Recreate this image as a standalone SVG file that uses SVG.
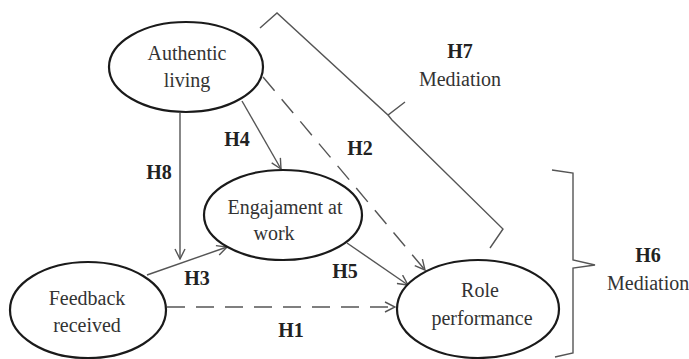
<svg xmlns="http://www.w3.org/2000/svg" width="689" height="359" viewBox="0 0 689 359">
<style>
.node ellipse{fill:#ffffff;stroke:#1a1a1a;stroke-width:2.2}
.lbl{font-family:"Liberation Serif","Times New Roman",serif;font-size:20px;fill:#333;text-anchor:middle}
.h{font-family:"Liberation Serif","Times New Roman",serif;font-size:20px;font-weight:bold;fill:#222;text-anchor:middle}
.c{fill:none;stroke:#555;stroke-width:1.4}
.d{stroke-dasharray:18,11}
.br{fill:none;stroke:#555;stroke-width:1.4}
</style>
<defs>
<marker id="arr" viewBox="0 0 12 12" refX="11" refY="6" markerWidth="12" markerHeight="12" markerUnits="userSpaceOnUse" orient="auto">
<path d="M1,1 L11,6 L1,11" fill="none" stroke="#555" stroke-width="1.4"/>
</marker>
</defs>
<rect width="689" height="359" fill="#ffffff"/>
<g id="connectors">
<line class="c" x1="180" y1="113" x2="180" y2="259" marker-end="url(#arr)"/>
<line class="c" x1="147" y1="275" x2="227" y2="247" marker-end="url(#arr)"/>
<line class="c" x1="242" y1="101" x2="281" y2="169" marker-end="url(#arr)"/>
<line class="c d" x1="263" y1="77" x2="425" y2="270" marker-end="url(#arr)"/>
<line class="c" x1="347" y1="243" x2="408" y2="285" marker-end="url(#arr)"/>
<line class="c d" x1="167" y1="307" x2="395" y2="307" marker-end="url(#arr)"/>
</g>
<g id="brackets">
<path class="br" d="M260,28 L277,13 L388,115 L405,102 M388,115 L392,120 L503,229 L490,248"/>
<path class="br" d="M552,170 L573,173 L573,260 L595,265 L573,268 L573,353 L555,357"/>
</g>
<g id="authentic-living" class="node">
<ellipse cx="186" cy="67" rx="77" ry="45"/>
<text class="lbl" x="187" y="60">Authentic</text>
<text class="lbl" x="187" y="87">living</text>
</g>
<g id="engagement" class="node">
<ellipse cx="283" cy="215" rx="79" ry="45"/>
<text class="lbl" x="285" y="214">Engajament at</text>
<text class="lbl" x="274" y="240">work</text>
</g>
<g id="feedback" class="node">
<ellipse cx="88" cy="310" rx="78" ry="48"/>
<text class="lbl" x="87" y="305">Feedback</text>
<text class="lbl" x="87" y="332">received</text>
</g>
<g id="role-performance" class="node">
<ellipse cx="478" cy="309" rx="81" ry="49"/>
<text class="lbl" x="480" y="297">Role</text>
<text class="lbl" x="482" y="325">performance</text>
</g>
<g id="labels">
<text class="h" x="159" y="179">H8</text>
<text class="h" x="237" y="146">H4</text>
<text class="h" x="360" y="155">H2</text>
<text class="h" x="197" y="285">H3</text>
<text class="h" x="345" y="278">H5</text>
<text class="h" x="291" y="337">H1</text>
<text class="h" x="460" y="58">H7</text>
<text class="lbl" x="460" y="86">Mediation</text>
<text class="h" x="648" y="262">H6</text>
<text class="lbl" x="607" y="290" style="text-anchor:start">Mediation</text>
</g>
</svg>
